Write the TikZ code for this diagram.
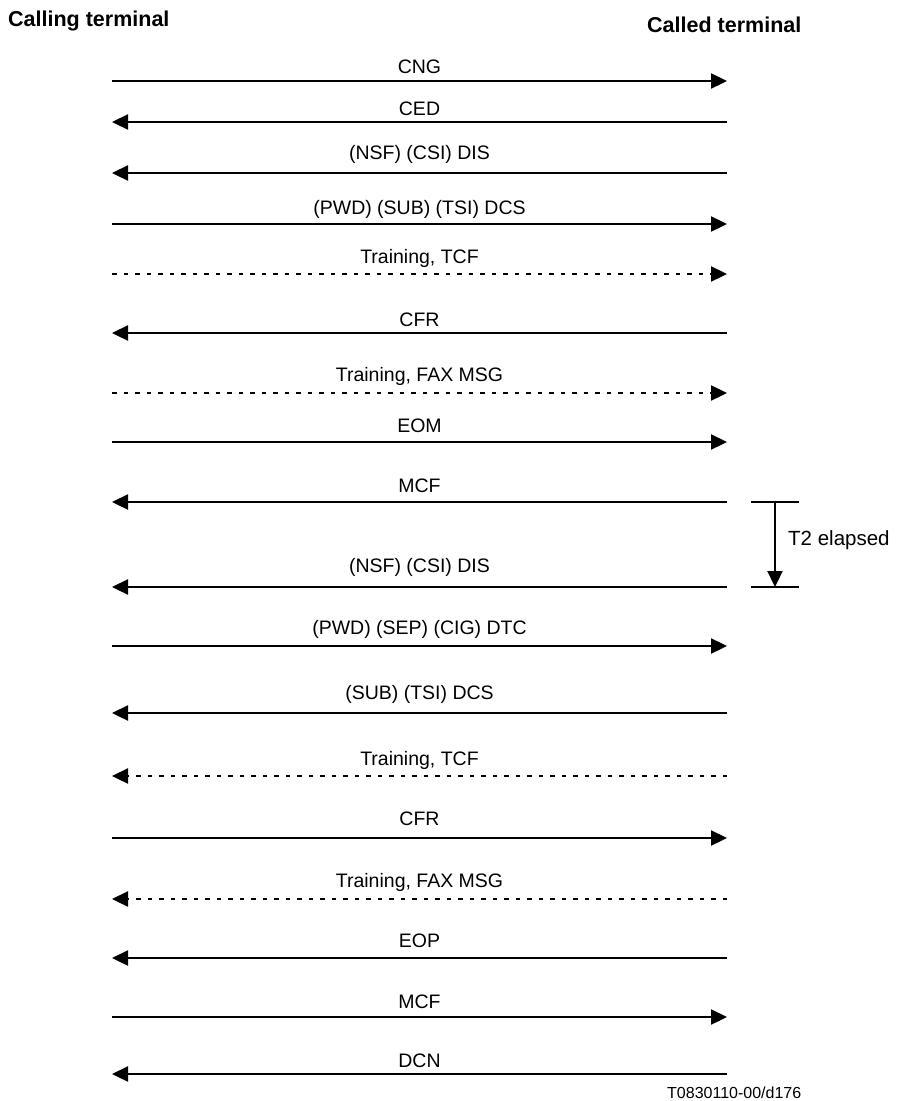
\documentclass[tikz,border=0pt]{standalone}
\usepackage{fontspec}
\setmainfont{Liberation Sans}
\usetikzlibrary{arrows.meta}
\begin{document}
\begin{tikzpicture}[x=1pt,y=-1pt,
  msg/.style={line width=2.3pt},
  tip/.style={arrows={-Triangle[length=16pt,width=15pt]}},
  dsh/.style={dash pattern=on 4.5pt off 7pt},
  lbl/.style={anchor=base, inner sep=0pt, font=\fontsize{19.5}{22}\selectfont},
  ttl/.style={anchor=base west, inner sep=0pt, font=\bfseries\fontsize{21.5}{24}\selectfont},
  side/.style={anchor=base west, inner sep=0pt, font=\fontsize{20.5}{23}\selectfont},
  foot/.style={anchor=base west, inner sep=0pt, font=\fontsize{16}{19}\selectfont}]
\useasboundingbox (0,0) rectangle (897,1101);
% titles
\node[ttl] (calling) at (8,26) {Calling terminal};
\node[ttl] (called) at (647,32) {Called terminal};
% messages: id, line y, label baseline y, text, kind
\newcommand{\seqmsg}[5]{%
  \coordinate (L#1) at (112,#2);
  \coordinate (R#1) at (727,#2);
  \node[lbl] (t#1) at (419.5,#3) {#4};
  \ifx r#5\draw[msg,tip] (L#1) -- (R#1);\fi
  \ifx l#5\draw[msg,tip] (R#1) -- (L#1);\fi
  \ifx R#5\draw[msg,dsh,tip] (L#1) -- (R#1);\fi
  \ifx L#5\draw[msg,dsh,tip] (R#1) -- (L#1);\fi}
\seqmsg{1}{81}{73}{CNG}{r}
\seqmsg{2}{122}{115}{CED}{l}
\seqmsg{3}{173}{159}{(NSF) (CSI) DIS}{l}
\seqmsg{4}{224}{214}{(PWD) (SUB) (TSI) DCS}{r}
\seqmsg{5}{274}{263}{Training, TCF}{R}
\seqmsg{6}{333}{326}{CFR}{l}
\seqmsg{7}{393}{381}{Training, FAX MSG}{R}
\seqmsg{8}{442}{432}{EOM}{r}
\seqmsg{9}{502}{492}{MCF}{l}
\seqmsg{10}{587}{572}{(NSF) (CSI) DIS}{l}
\seqmsg{11}{646}{634}{(PWD) (SEP) (CIG) DTC}{r}
\seqmsg{12}{713}{699}{(SUB) (TSI) DCS}{l}
\seqmsg{13}{776}{765}{Training, TCF}{L}
\seqmsg{14}{838}{825}{CFR}{r}
\seqmsg{15}{899}{887}{Training, FAX MSG}{L}
\seqmsg{16}{958}{947}{EOP}{l}
\seqmsg{17}{1017}{1008}{MCF}{r}
\seqmsg{18}{1074}{1067}{DCN}{l}
% T2 elapsed
\coordinate (T2l) at (751,502);
\coordinate (T2r) at (799,502);
\coordinate (T2bl) at (751,587);
\coordinate (T2br) at (799,587);
\coordinate (T2top) at (775,502);
\coordinate (T2bot) at (775,587);
\draw[msg] (T2l) -- (T2r);
\draw[msg] (T2bl) -- (T2br);
\draw[msg,tip] (T2top) -- (T2bot);
\node[side] (t2) at (788,545) {T2 elapsed};
% footer
\node[foot] (code) at (667,1098) {T0830110-00/d176};
\end{tikzpicture}
\end{document}
